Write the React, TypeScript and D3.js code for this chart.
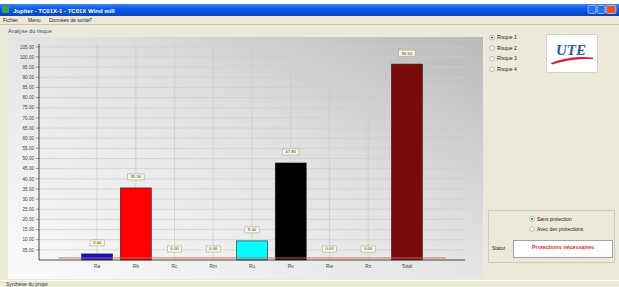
import * as d3 from "d3";

const categories = ["Ra", "Rb", "Rc", "Rm", "Ru", "Rv", "Rw", "Rz", "Total"];
const riskValues = [3.0, 35.5, 0, 0, 9.4, 47.8, 0, 0, 96.5];
const barColors = ["#0b0fd2", "#ff0000", "#c0c0c0", "#c0c0c0", "#00ffff", "#000000", "#c0c0c0", "#c0c0c0", "#7a0b0b"];
const yTicks = [5, 10, 15, 20, 25, 30, 35, 40, 45, 50, 55, 60, 65, 70, 75, 80, 85, 90, 95, 100, 105];
const tolerableRisk = 1;
const riskOptions = ["Risque 1", "Risque 2", "Risque 3", "Risque 4"];
const protectionOptions = ["Sans protection", "Avec des protections"];
const menuItems = ["Fichier", "Menu", "Données de sortie", "?"];

const W = 619;
const H = 287;
const font = "Liberation Sans, Arial, sans-serif";

function Radio({ cx, cy, label, checked }: { cx: number; cy: number; label: string; checked: boolean }) {
  return (
    <g>
      <circle cx={cx} cy={cy} r={2.4} fill="#fff" stroke="#8a8f99" strokeWidth={0.6} />
      {checked && <circle cx={cx} cy={cy} r={1.1} fill="#2a8a2a" />}
      <text x={cx + 5} y={cy + 1.7} fontSize={5} fill="#222" fontFamily={font}>
        {label}
      </text>
    </g>
  );
}

export default function App() {
  const x = d3.scalePoint<string>().domain(categories).range([39, 465]).padding(1.5);
  const y = d3.scaleLinear().domain([0, 105]).range([260, 46.85]);
  const step = x.step();
  const barW = step * 0.8;
  const fmt = d3.format("05.2f");
  const valFmt = d3.format(".2f");

  return (
    <div style={{ position: "absolute", left: 0, top: 0 }}>
      <svg width={W} height={H} style={{ display: "block" }}>
        <defs>
          <linearGradient id="title" x1="0" y1="0" x2="0" y2="1">
            <stop offset="0" stopColor="#3d86f5" />
            <stop offset="0.4" stopColor="#0a5ae6" />
            <stop offset="1" stopColor="#0646c8" />
          </linearGradient>
          <linearGradient id="panel" x1="0" y1="1" x2="1" y2="0">
            <stop offset="0" stopColor="#fbfbfb" />
            <stop offset="0.55" stopColor="#e2e2e2" />
            <stop offset="1" stopColor="#b9b9b9" />
          </linearGradient>
        </defs>

        {/* window */}
        <rect x={0} y={0} width={W} height={H} fill="#ece9d8" />
        <rect x={0} y={0} width={W} height={4} fill="#fff" />
        <rect x={0} y={4} width={W} height={12} fill="url(#title)" />
        <rect x={2} y={6} width={7} height={7} fill="#3fa33f" rx={1} />
        <text x={13} y={12.5} fontSize={6} fontWeight="bold" fill="#fff" fontFamily={font}>
          Jupiter - TC01X-1 - TC01X Wind mill
        </text>
        <rect x={588} y={5.5} width={8} height={8} rx={1.5} fill="#2e6ff0" stroke="#fff" strokeWidth={0.5} />
        <rect x={597} y={5.5} width={8} height={8} rx={1.5} fill="#2e6ff0" stroke="#fff" strokeWidth={0.5} />
        <rect x={606} y={5.5} width={10} height={8} rx={1.5} fill="#e1572a" stroke="#fff" strokeWidth={0.5} />

        {/* menu */}
        {menuItems.map((m, i) => (
          <text key={m} x={3 + [0, 25, 46, 86][i]} y={21.5} fontSize={5} fill="#222" fontFamily={font}>
            {m}
          </text>
        ))}
        <line x1={0} x2={W} y1={24.5} y2={24.5} stroke="#c9c5b2" strokeWidth={1} />
        <text x={8} y={33} fontSize={5.5} fill="#1d4fa8" fontFamily={font}>
          Analyse du risque
        </text>

        {/* chart panel */}
        <rect x={8} y={37} width={475} height={242} fill="url(#panel)" />

        {yTicks.map((t) => (
          <g key={t}>
            <line x1={39} x2={465} y1={y(t)} y2={y(t)} stroke="#cdcdcd" strokeWidth={0.7} />
            <line x1={36} x2={39} y1={y(t)} y2={y(t)} stroke="#555" strokeWidth={0.6} />
            <text x={34} y={y(t) + 1.7} fontSize={4.6} textAnchor="end" fill="#444" fontFamily={font}>
              {fmt(t)}
            </text>
          </g>
        ))}
        {categories.map((c) => (
          <line key={c} x1={x(c)!} x2={x(c)!} y1={44} y2={260} stroke="#cbcbcb" strokeWidth={0.7} />
        ))}

        {/* bars */}
        {categories.map((c, i) => {
          const v = riskValues[i];
          const cx = x(c)!;
          const top = y(v);
          const label = valFmt(v);
          const bw = 5 + label.length * 2.3;
          return (
            <g key={c}>
              {v > 0 && (
                <rect x={cx - barW / 2} y={top} width={barW} height={y(0) - top} fill={barColors[i]} stroke="#222" strokeWidth={0.6} />
              )}
              <rect x={cx - bw / 2} y={top - 14} width={bw} height={6} fill="#fbfbe4" stroke="#9c9c84" strokeWidth={0.5} />
              <text x={cx} y={top - 9.6} fontSize={4.3} textAnchor="middle" fill="#333" fontFamily={font}>
                {label}
              </text>
              <text x={cx} y={268} fontSize={4.8} textAnchor="middle" fill="#444" fontFamily={font}>
                {c}
              </text>
            </g>
          );
        })}

        {/* tolerable risk line */}
        <line
          x1={x(categories[0])! - step}
          x2={x(categories[categories.length - 1])! + step}
          y1={y(tolerableRisk)}
          y2={y(tolerableRisk)}
          stroke="#e05a5a"
          strokeWidth={0.9}
        />

        {/* axes */}
        <line x1={39} x2={39} y1={44} y2={260} stroke="#333" strokeWidth={0.9} />
        <line x1={39} x2={465} y1={260} y2={260} stroke="#333" strokeWidth={0.9} />

        {/* right panel */}
        {riskOptions.map((r, i) => (
          <Radio key={r} cx={492} cy={37.5 + i * 10.6} label={r} checked={i === 0} />
        ))}
        <rect x={546.5} y={34.5} width={51} height={38} fill="#fff" stroke="#d8d4c4" strokeWidth={1} />
        <path d="M551 63 C 565 57, 580 56, 593 57.5 L 593 59 C 580 58.5, 566 60, 552 64.5 Z" fill="#e0203c" />
        <text x={571} y={55} fontSize={15} fontStyle="italic" fontWeight="bold" textAnchor="middle" fill="#1f5ea6" fontFamily="Liberation Serif, Times New Roman, serif">
          UTE
        </text>

        <rect x={488.5} y={210.5} width={126} height={52} fill="none" stroke="#d0ccb8" strokeWidth={1} />
        {protectionOptions.map((p, i) => (
          <Radio key={p} cx={532} cy={219 + i * 10} label={p} checked={i === 0} />
        ))}
        <text x={492} y={250} fontSize={5} fill="#222" fontFamily={font}>
          Statut
        </text>
        <rect x={513.5} y={240.5} width={99} height={17} fill="#fff" stroke="#8a8f99" strokeWidth={0.8} />
        <text x={563} y={249} fontSize={5.4} fontWeight="bold" textAnchor="middle" fill="#ee1c3a" fontFamily={font}>
          Protections nécessaires
        </text>

        {/* status bar */}
        <line x1={0} x2={W} y1={280.5} y2={280.5} stroke="#fff" strokeWidth={1} />
        <text x={6} y={286} fontSize={5} fill="#333" fontFamily={font}>
          Synthèse du projet
        </text>
      </svg>
    </div>
  );
}
